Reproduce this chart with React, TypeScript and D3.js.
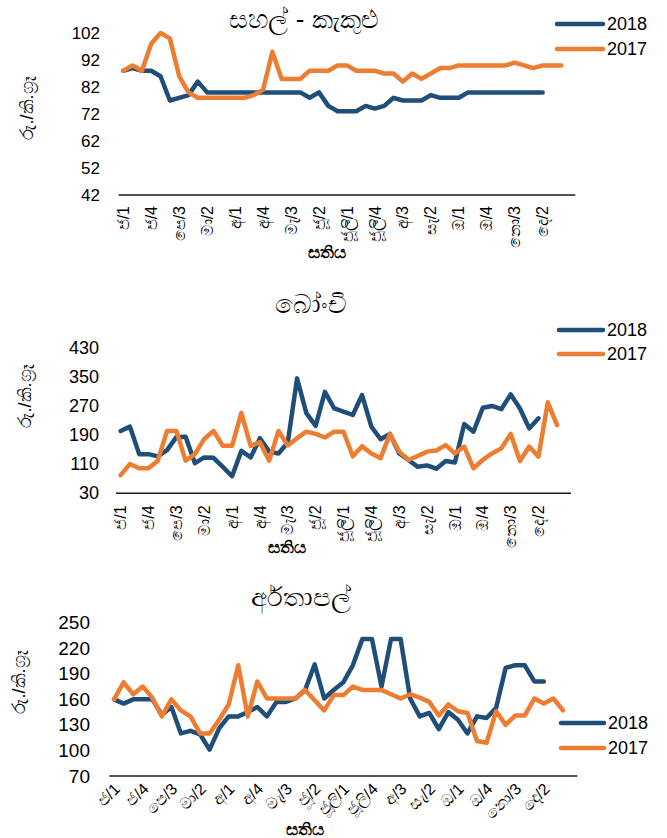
import React from "react";
import * as d3 from "d3";

// ---------- categories ----------
const monthAbbr = ["ජ", "පෙ", "මා", "අ", "මැ", "ජූ", "ජූලි", "අ", "සැ", "ඔ", "නො", "දෙ"];
const weekNos = [1, 2, 3, 4];
// 48 weeks plus one trailing empty slot on the category axis
const weeks: string[] = [...monthAbbr.flatMap((m) => weekNos.map((w) => `${m}/${w}`)), ""];
const labelEvery = 3;

const seriesNames = ["2018", "2017"];

// ---------- rice (සහල් - කැකුළු) ----------
const rice2018 = [88, 89, 88, 88, 86, 77, 78, 79, 84, 80, 80, 80, 80, 80, 80, 80, 80, 80, 80, 80,
  78, 80, 75, 73, 73, 73, 75, 74, 75, 78, 77, 77, 77, 79, 78, 78, 78, 80, 80, 80,
  80, 80, 80, 80, 80, 80];
const rice2017 = [88, 90, 88, 98, 102, 100, 86, 80, 78, 78, 78, 78, 78, 78, 79, 81, 95, 85, 85, 85,
  88, 88, 88, 90, 90, 88, 88, 88, 87, 87, 84, 87, 85, 87, 89, 89, 90, 90, 90, 90,
  90, 90, 91, 90, 89, 90, 90, 90];
const riceTicks = [42, 52, 62, 72, 82, 92, 102];

// ---------- beans (බෝංචි) ----------
const beans2018 = [202, 214, 138, 138, 132, 149, 185, 186, 113, 129, 128, 103, 77, 147, 129, 182, 145, 140, 170, 347,
  251, 216, 310, 264, 255, 246, 301, 214, 179, 194, 140, 122, 103, 107, 98, 119, 115, 221, 200, 266,
  271, 262, 303, 264, 209, 237];
const beans2017 = [80, 111, 99, 99, 120, 202, 202, 120, 138, 180, 202, 161, 161, 252, 161, 171, 120, 202, 162, 182,
  200, 194, 184, 200, 200, 132, 160, 140, 127, 194, 145, 122, 133, 145, 148, 163, 140, 159, 99, 122,
  140, 154, 194, 119, 159, 131, 281, 218];
const beansTicks = [30, 110, 190, 270, 350, 430];

// ---------- potatoes (අර්තාපල්) ----------
const potato2018 = [160, 155, 160, 160, 160, 142, 151, 120, 123, 119, 101, 126, 140, 140, 145, 151, 140, 157, 157, 161,
  171, 201, 161, 171, 180, 200, 231, 231, 175, 231, 231, 161, 140, 144, 125, 145, 136, 120, 140, 138,
  150, 197, 200, 200, 181, 181];
const potato2017 = [160, 180, 166, 175, 162, 140, 160, 147, 140, 120, 120, 136, 154, 200, 140, 181, 161, 161, 161, 161,
  171, 159, 147, 165, 165, 175, 171, 171, 171, 166, 161, 166, 162, 157, 141, 154, 146, 144, 111, 109,
  146, 130, 141, 141, 161, 155, 161, 147];
const potatoTicks = [70, 100, 130, 160, 190, 220, 250];

const titles = ["සහල් - කැකුළු", "බෝංචි", "අර්\u200Cතාපල්"];
const yTitle = "රු./කි.ග්‍රෑ";
const xTitle = "සතිය";

// ---------- styles ----------
const COLORS = ["#1F4E79", "#ED7D31"];
const FONT = "'Liberation Sans', Arial, 'Noto Sans', sans-serif";

type PanelProps = {
  title: string;
  titlePos: [number, number];
  s2018: number[];
  s2017: number[];
  ticks: number[];
  xRange: [number, number];
  yRange: [number, number];
  tickFont: number;
  tickRight: number;
  labelRotate: number;
  labelGap: number;
  yTitlePos: [number, number];
  xTitlePos: [number, number];
  legend: { x1: number; x2: number; y1: number; y2: number };
};

function Panel(p: PanelProps) {
  const x = d3.scaleBand<string>().domain(weeks.map((_, i) => String(i))).range(p.xRange).padding(0);
  const y = d3.scaleLinear().domain([p.ticks[0], p.ticks[p.ticks.length - 1]]).range(p.yRange);
  const cx = (i: number) => (x(String(i)) as number) + x.bandwidth() / 2;
  const line = d3
    .line<number>()
    .x((_, i) => cx(i))
    .y((d) => y(d));
  const axisY = p.yRange[0];
  const series = [p.s2018, p.s2017];
  const legendYs = [p.legend.y1, p.legend.y2];
  return (
    <g>
      <text x={p.titlePos[0]} y={p.titlePos[1]} textAnchor="middle" dominantBaseline="central"
        fontSize={26} fill="#000">{p.title}</text>
      {p.ticks.map((t) => (
        <text key={t} x={p.tickRight} y={y(t)} textAnchor="end" dominantBaseline="central"
          fontSize={p.tickFont} fill="#000">{t}</text>
      ))}
      <line x1={p.xRange[0]} x2={p.xRange[1]} y1={axisY} y2={axisY} stroke="#1a1a1a" strokeWidth={1.5} />
      {weeks.map((w, i) =>
        i % labelEvery === 0 && w ? (
          p.labelRotate === -90 ? (
            <text key={i} transform={`translate(${cx(i)},${axisY + p.labelGap}) rotate(-90)`}
              textAnchor="end" dy="0.35em" fontSize={16} fill="#000">{w}</text>
          ) : (
            <text key={i} transform={`translate(${cx(i) + 3},${axisY + p.labelGap}) rotate(${p.labelRotate})`}
              textAnchor="end" dy="0.35em" fontSize={16} fill="#000">{w}</text>
          )
        ) : null
      )}
      {series.map((s, k) => (
        <path key={k} d={line(s) ?? ""} fill="none" stroke={COLORS[k]} strokeWidth={4.5}
          strokeLinejoin="round" strokeLinecap="round" />
      ))}
      <text transform={`translate(${p.yTitlePos[0]},${p.yTitlePos[1]}) rotate(-90)`} textAnchor="middle"
        dominantBaseline="central" fontSize={18} fill="#000">{yTitle}</text>
      <text x={p.xTitlePos[0]} y={p.xTitlePos[1]} textAnchor="middle" dominantBaseline="central"
        fontSize={17} fontWeight="bold" fill="#000">{xTitle}</text>
      {seriesNames.map((n, k) => (
        <g key={n}>
          <line x1={p.legend.x1} x2={p.legend.x2} y1={legendYs[k]} y2={legendYs[k]} stroke={COLORS[k]}
            strokeWidth={4.5} strokeLinecap="round" />
          <text x={p.legend.x2 + 4} y={legendYs[k]} dominantBaseline="central" fontSize={18} fill="#000">{n}</text>
        </g>
      ))}
    </g>
  );
}

export default function App() {
  return (
    <>
      <style>{"body{margin:0}"}</style>
      <svg width={667} height={838} style={{ display: "block", fontFamily: FONT }}>
        <rect width={667} height={838} fill="#fff" />
        <Panel title={titles[0]} titlePos={[304, 19]} s2018={rice2018} s2017={rice2017} ticks={riceTicks}
          xRange={[118.6, 575.3]} yRange={[195, 33]} tickFont={17} tickRight={100} labelRotate={-90} labelGap={11}
          yTitlePos={[27, 108]} xTitlePos={[327, 252]} legend={{ x1: 557, x2: 603, y1: 24, y2: 49 }} />
        <Panel title={titles[1]} titlePos={[311, 304]} s2018={beans2018} s2017={beans2017} ticks={beansTicks}
          xRange={[116, 571]} yRange={[493.3, 348.3]} tickFont={18} tickRight={99} labelRotate={-90} labelGap={12}
          yTitlePos={[25, 396]} xTitlePos={[287, 547]} legend={{ x1: 559, x2: 603, y1: 330, y2: 354 }} />
        <Panel title={titles[2]} titlePos={[301, 597]} s2018={potato2018} s2017={potato2017} ticks={potatoTicks}
          xRange={[109.3, 577.3]} yRange={[776, 622.7]} tickFont={19} tickRight={90} labelRotate={-45} labelGap={10}
          yTitlePos={[19, 682]} xTitlePos={[305, 829]} legend={{ x1: 561, x2: 604, y1: 723, y2: 748 }} />
      </svg>
    </>
  );
}
